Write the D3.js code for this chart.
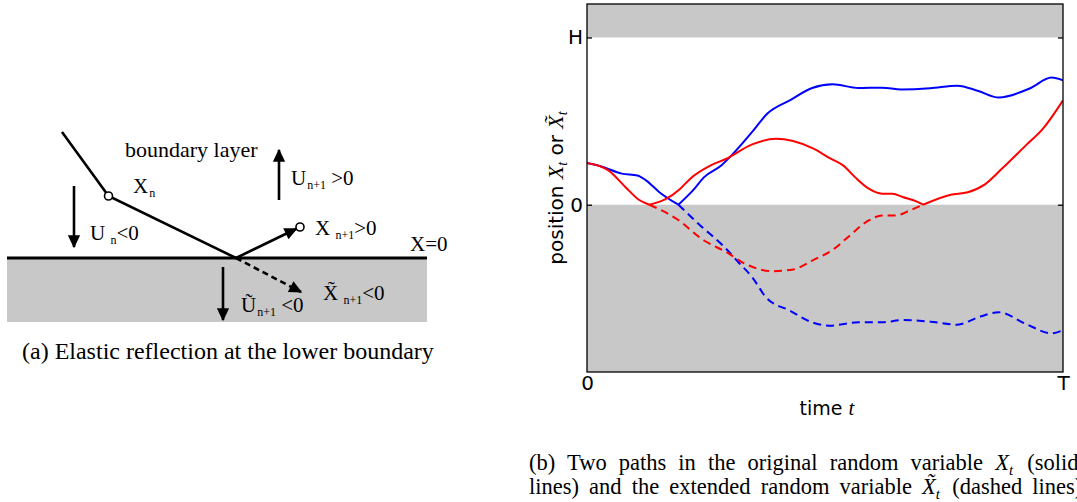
<!DOCTYPE html>
<html><head><meta charset="utf-8">
<script src="https://cdn.jsdelivr.net/npm/d3@7"></script>
<style>body{margin:0;background:#fff}svg{display:block}</style>
</head><body>
<svg id="c" width="1077" height="502"></svg>
<script>
// ---------- chart data (t in units of T, value in units of H) ----------
const blueSolidT = [0, 0.03, 0.073, 0.106, 0.124, 0.152, 0.192, 0.224, 0.246, 0.282, 0.307, 0.347, 0.379, 0.426, 0.473, 0.516, 0.57, 0.62, 0.66, 0.721, 0.778, 0.822, 0.865, 0.93, 0.976, 1.0];
const blueSolidV = [0.249, 0.229, 0.186, 0.175, 0.146, 0.075, 0, 0.09, 0.165, 0.235, 0.305, 0.435, 0.545, 0.624, 0.698, 0.72, 0.698, 0.70, 0.689, 0.696, 0.712, 0.68, 0.641, 0.695, 0.76, 0.744];
const blueDashT = [0.192, 0.238, 0.289, 0.318, 0.347, 0.376, 0.426, 0.473, 0.509, 0.57, 0.62, 0.663, 0.721, 0.778, 0.822, 0.865, 0.922, 0.976, 1.0];
const blueDashV = [0, -0.124, -0.254, -0.344, -0.433, -0.553, -0.633, -0.703, -0.723, -0.703, -0.703, -0.689, -0.699, -0.717, -0.673, -0.643, -0.713, -0.769, -0.749];
const redSolidT = [0, 0.045, 0.081, 0.109, 0.131, 0.163, 0.196, 0.217, 0.26, 0.293, 0.347, 0.397, 0.433, 0.476, 0.512, 0.538, 0.563, 0.592, 0.62, 0.642, 0.663, 0.692, 0.706, 0.764, 0.8, 0.836, 0.872, 0.922, 0.958, 1.0];
const redSolidV = [0.249, 0.205, 0.105, 0.03, 0, 0.03, 0.096, 0.156, 0.235, 0.275, 0.361, 0.395, 0.381, 0.335, 0.275, 0.235, 0.165, 0.096, 0.066, 0.066, 0.046, 0.02, 0, 0.06, 0.075, 0.122, 0.216, 0.355, 0.455, 0.624];
const redDashT = [0.131, 0.188, 0.246, 0.293, 0.332, 0.39, 0.433, 0.476, 0.519, 0.548, 0.592, 0.62, 0.649, 0.678, 0.706];
const redDashV = [0, -0.084, -0.214, -0.284, -0.353, -0.397, -0.387, -0.33, -0.264, -0.194, -0.094, -0.064, -0.064, -0.034, 0];
const xTickValues = [0, 1];
const xTickLabels = ["0", "T"];
const yTickValues = [0, 1];
const yTickLabels = ["0", "H"];
const yDomain = [-1, 1.2];

const svg = d3.select("#c");
const SERIF = "'Liberation Serif','Times New Roman',serif";
const SANS = "'DejaVu Sans',sans-serif";
const defs = svg.append("defs");

// ---------- right panel: paths chart ----------
const x = d3.scaleLinear().domain([0, 1]).range([587, 1063]);
const y = d3.scaleLinear().domain(yDomain).range([372, 4]);
const g = svg.append("g");
defs.append("clipPath").attr("id", "pc").append("rect")
  .attr("x", x(0)).attr("y", y(yDomain[1])).attr("width", x(1) - x(0)).attr("height", y(yDomain[0]) - y(yDomain[1]));
const GRAY = "#c8c8c8";
g.append("rect").attr("x", x(0)).attr("width", x(1) - x(0)).attr("y", y(yDomain[1])).attr("height", y(1) - y(yDomain[1])).attr("fill", GRAY);
g.append("rect").attr("x", x(0)).attr("width", x(1) - x(0)).attr("y", y(0)).attr("height", y(yDomain[0]) - y(0)).attr("fill", GRAY);

function segments(T, V) {
  const pts = T.map((t, i) => [t, V[i]]);
  const out = []; let cur = [];
  pts.forEach((p, i) => {
    cur.push(p);
    if (p[1] === 0 && i > 0 && i < pts.length - 1) { out.push(cur); cur = [p]; }
  });
  out.push(cur);
  return out;
}
const line = d3.line().x(d => x(d[0])).y(d => y(d[1])).curve(d3.curveMonotoneX);
const series = [
  {T: blueDashT, V: blueDashV, c: "#0000ff", dash: "8,5"},
  {T: redDashT, V: redDashV, c: "#ff0000", dash: "8,5"},
  {T: blueSolidT, V: blueSolidV, c: "#0000ff", dash: null},
  {T: redSolidT, V: redSolidV, c: "#ff0000", dash: null}
];
const lg = g.append("g").attr("clip-path", "url(#pc)");
series.forEach(s => {
  segments(s.T, s.V).forEach(seg => {
    lg.append("path").attr("d", line(seg)).attr("fill", "none")
      .attr("stroke", s.c).attr("stroke-width", 2)
      .attr("stroke-dasharray", s.dash).attr("stroke-linejoin", "round");
  });
});
// frame
g.append("rect").attr("x", x(0)).attr("y", y(yDomain[1])).attr("width", x(1) - x(0)).attr("height", y(yDomain[0]) - y(yDomain[1]))
  .attr("fill", "none").attr("stroke", "#000").attr("stroke-width", 1.3);
// axes
const yl = g.append("g").attr("transform", `translate(${x(0)},0)`)
  .call(d3.axisLeft(y).tickValues(yTickValues).tickFormat((d, i) => yTickLabels[i]).tickSize(-5).tickPadding(4));
const yr = g.append("g").attr("transform", `translate(${x(1)},0)`)
  .call(d3.axisRight(y).tickValues(yTickValues).tickFormat("").tickSize(-5));
const xb = g.append("g").attr("transform", `translate(0,${y(yDomain[0])})`)
  .call(d3.axisBottom(x).tickValues(xTickValues).tickFormat((d, i) => xTickLabels[i]).tickSize(0).tickPadding(4));
[yl, yr, xb].forEach(a => {
  a.select(".domain").remove();
  a.selectAll("line").attr("stroke", "#000").attr("stroke-width", 1.3);
  a.selectAll("text").attr("font-family", SANS).attr("font-size", 20).attr("fill", "#000");
});
// axis titles
const xt = g.append("text").attr("x", (x(0) + x(1)) / 2 + 2).attr("y", 415).attr("text-anchor", "middle")
  .attr("font-family", SANS).attr("font-size", 19);
xt.append("tspan").text("time ");
xt.append("tspan").attr("font-family", SERIF).attr("font-style", "italic").attr("font-size", 21).text("t");
const ytl = g.append("text").attr("transform", `translate(563,${y(0.1)}) rotate(-90)`).attr("text-anchor", "middle")
  .attr("font-family", SANS).attr("font-size", 20);
ytl.append("tspan").text("position ");
ytl.append("tspan").attr("font-family", SERIF).attr("font-style", "italic").attr("font-size", 22).text("X");
ytl.append("tspan").attr("font-family", SERIF).attr("font-style", "italic").attr("font-size", 14).attr("dy", 4).text("t");
ytl.append("tspan").attr("dy", -4).text(" or ");
ytl.append("tspan").attr("font-family", SERIF).attr("font-style", "italic").attr("font-size", 22).text("X\u0303");
ytl.append("tspan").attr("font-family", SERIF).attr("font-style", "italic").attr("font-size", 14).attr("dy", 4).text("t");

// caption (b): justified lines, clipped at the page edge as in the original
function capLine(yBase, before, sym, after, spacing) {
  const t = svg.append("text").attr("x", 529).attr("y", yBase).attr("font-family", SERIF).attr("font-size", 22.5)
    .attr("fill", "#000").attr("word-spacing", spacing);
  t.append("tspan").text(before);
  t.append("tspan").attr("font-style", "italic").text(sym);
  t.append("tspan").attr("font-style", "italic").attr("font-size", 15).attr("dy", 5).text("t");
  t.append("tspan").attr("dy", -5).attr("dx", 2).text(after);
}
capLine(470, "(b) Two paths in the original random variable ", "X", " (solid", 6.5);
capLine(494, "lines) and the extended random variable ", "X\u0303", " (dashed lines)", 4.5);

// ---------- left panel: elastic reflection diagram ----------
const L = svg.append("g");
defs.append("marker").attr("id", "ah").attr("viewBox", "0 0 10 10").attr("refX", 9).attr("refY", 5)
  .attr("markerWidth", 6).attr("markerHeight", 5).attr("markerUnits", "strokeWidth").attr("orient", "auto")
  .append("path").attr("d", "M0,0.3 L10,5 L0,9.7 Z").attr("fill", "#000");
const layer = {x0: 7, x1: 427, yLine: 258, yBottom: 322};
L.append("rect").attr("x", layer.x0).attr("y", layer.yLine).attr("width", layer.x1 - layer.x0).attr("height", layer.yBottom - layer.yLine).attr("fill", GRAY);
L.append("line").attr("x1", layer.x0).attr("x2", layer.x1).attr("y1", layer.yLine).attr("y2", layer.yLine).attr("stroke", "#000").attr("stroke-width", 3);
const P = {start: [62, 132], xn: [108.5, 196], hit: [236, 258], xn1: [300, 227], xt: [301, 292]};
L.append("path").attr("d", d3.line()([P.start, P.xn, P.hit])).attr("fill", "none").attr("stroke", "#000").attr("stroke-width", 2.6);
function arrow(a, b, dash) {
  L.append("line").attr("x1", a[0]).attr("y1", a[1]).attr("x2", b[0]).attr("y2", b[1])
    .attr("stroke", "#000").attr("stroke-width", 2.6).attr("stroke-dasharray", dash || null)
    .attr("marker-end", "url(#ah)");
}
const dx = P.xn1[0] - P.hit[0], dy = P.xn1[1] - P.hit[1], dl = Math.hypot(dx, dy);
arrow(P.hit, [P.xn1[0] - dx / dl * 4, P.xn1[1] - dy / dl * 4]);
arrow(P.hit, P.xt, "6,4");
arrow([74, 186], [74, 247]);
arrow([279, 200], [279, 150]);
arrow([223, 267], [223, 320]);
[P.xn, P.xn1].forEach(p => L.append("circle").attr("cx", p[0]).attr("cy", p[1]).attr("r", 4).attr("fill", "#fff").attr("stroke", "#000").attr("stroke-width", 1.6));

function label(xp, yp, parts, size) {
  const t = L.append("text").attr("x", xp).attr("y", yp).attr("font-family", SERIF).attr("font-size", size || 21).attr("fill", "#000");
  parts.forEach(p => {
    const s = t.append("tspan").text(p.s);
    if (p.sub) s.attr("font-size", 12).attr("dy", 4); else if (p.back) s.attr("dy", -4);
    if (p.dx) s.attr("dx", p.dx);
  });
  return t;
}
label(125, 157, [{s: "boundary layer"}], 22);
label(133, 193, [{s: "X"}, {s: "n", sub: 1, dx: 1}]);
label(90, 240, [{s: "U "}, {s: "n", sub: 1}, {s: "<0", back: 1}]);
label(291, 185, [{s: "U"}, {s: "n+1", sub: 1, dx: 1}, {s: " >0", back: 1}]);
label(315, 235, [{s: "X "}, {s: "n+1", sub: 1}, {s: ">0", back: 1}]);
label(410, 251, [{s: "X=0"}]);
label(323, 300, [{s: "X\u0303 "}, {s: "n+1", sub: 1}, {s: "<0", back: 1}]);
label(241, 312, [{s: "U\u0303"}, {s: "n+1", sub: 1, dx: 1}, {s: " <0", back: 1}]);

// caption (a)
svg.append("text").attr("x", 22).attr("y", 359).attr("font-family", SERIF).attr("font-size", 24)
  .text("(a) Elastic reflection at the lower boundary");
</script>
</body></html>
